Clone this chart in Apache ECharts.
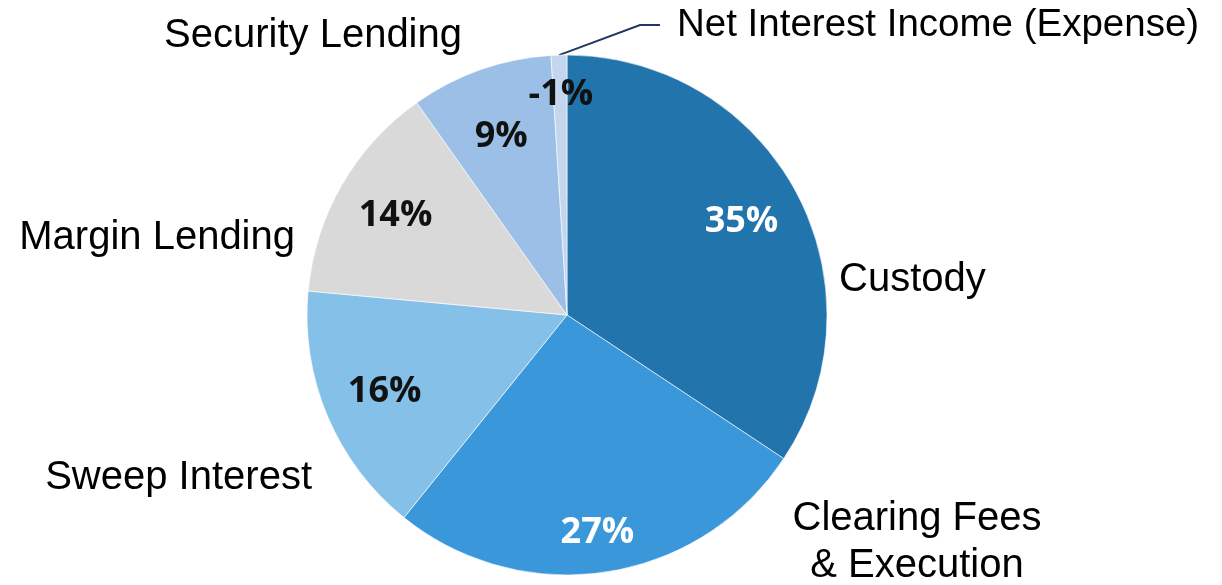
<!DOCTYPE html>
<html>
<head>
<meta charset="utf-8">
<script src="https://cdn.jsdelivr.net/npm/echarts@6/dist/echarts.min.js"></script>
<style>
  html, body { margin: 0; padding: 0; background: #fff; }
  #main { width: 1222px; height: 585px; }
</style>
</head>
<body>
<div id="main"></div>
<script>
// revenue mix, clockwise from 12 o'clock
var categories = ["Custody", "Clearing Fees\n& Execution", "Sweep Interest", "Margin Lending", "Security Lending", "Net Interest Income (Expense)"];
var shares = [35, 27, 16, 14, 9, -1];
var colors = ["#2274ad", "#3a98da", "#85c0e8", "#d9d9d9", "#9bbfe6", "#c3d6ee"];
var pctColors = ["#fff", "#fff", "#111", "#111", "#111", "#111"];

// where the category names sit
var namePos = [
  { x: 839, y: 280, align: "left" },
  { x: 917, y: 542, align: "center" },
  { x: 312, y: 478, align: "right" },
  { x: 295, y: 238, align: "right" },
  { x: 462, y: 36, align: "right" },
  { x: 660, y: 25, align: "left" }
];
// small nudges for the % labels
var pctShift = [0, 22, 0, 0, 8, -22];

var chart = echarts.init(document.getElementById("main"));

var pieData = categories.map(function (c, i) {
  return { name: c, value: Math.abs(shares[i]), itemStyle: { color: colors[i] } };
});

var option = {
  backgroundColor: "#fff",
  animation: false,
  series: [
    {
      type: "pie",
      center: [567, 315],
      radius: [0, 260],
      startAngle: 90,
      clockwise: true,
      silent: true,
      itemStyle: { borderColor: "#fff", borderWidth: 0.6 },
      data: pieData.map(function (d, i) {
        var o = Object.assign({}, d);
        o.labelLine = { show: i === 5 };
        if (i === 5) o.label = { padding: [0, 0, 0, 17], fontSize: 38.5 };
        return o;
      }),
      label: {
        show: true,
        position: "outside",
        formatter: "{b}",
        fontFamily: "Liberation Sans, Arial",
        fontSize: 40,
        lineHeight: 47,
        overflow: "none",
        color: "#000"
      },
      labelLine: {
        show: false,
        length: 28,
        length2: 20,
        lineStyle: { color: "#1f3864", width: 2 }
      },
      labelLayout: function (p) {
        var pos = namePos[p.dataIndex];
        return { x: pos.x, y: pos.y, align: pos.align, verticalAlign: "middle", width: 600 };
      }
    },
    {
      type: "pie",
      center: [567, 315],
      radius: [130, 260],
      startAngle: 90,
      clockwise: true,
      silent: true,
      itemStyle: { color: "rgba(0,0,0,0)" },
      data: pieData.map(function (d, i) {
        return { name: d.name, value: d.value, label: { color: pctColors[i] } };
      }),
      label: {
        show: true,
        position: "inside",
        fontFamily: "Open Sans",
        fontWeight: "bold",
        fontSize: 36,
        formatter: function (p) {
          return shares[p.dataIndex] + "%";
        },
        color: "#111"
      },
      labelLine: { show: false },
      labelLayout: function (p) {
        return { dy: pctShift[p.dataIndex] };
      }
    }
  ]
};

chart.setOption(option);
</script>
</body>
</html>
